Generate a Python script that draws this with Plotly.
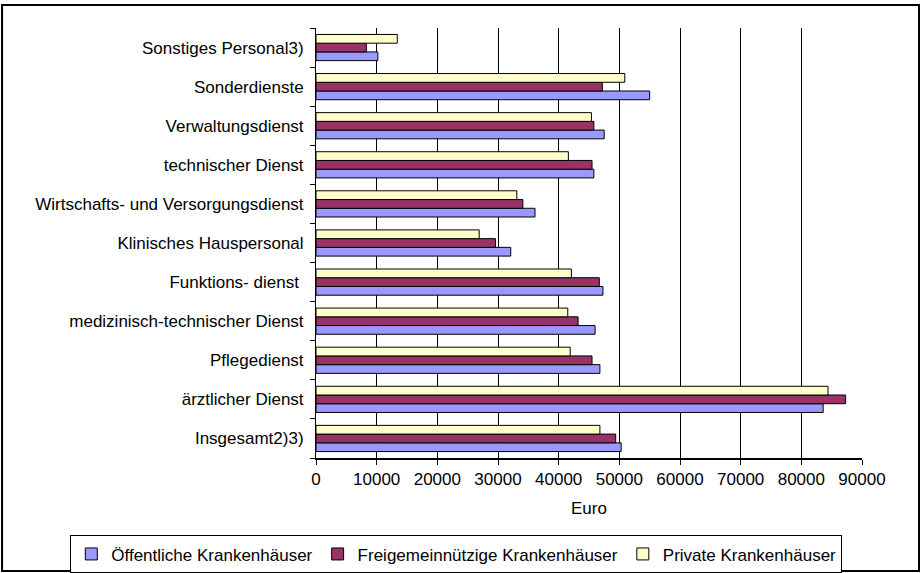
import plotly.graph_objs as go

# Kategorien von unten nach oben
kategorien = ['Insgesamt2)3)', 'ärztlicher Dienst', 'Pflegedienst', 'medizinisch-technischer Dienst',
              'Funktions- dienst ', 'Klinisches Hauspersonal', 'Wirtschafts- und Versorgungsdienst',
              'technischer Dienst', 'Verwaltungsdienst', 'Sonderdienste', 'Sonstiges Personal3)']

oeffentlich = [50300, 83600, 46800, 46000, 47300, 32100, 36100, 45800, 47500, 55000, 10200]
freigemein = [49400, 87300, 45500, 43200, 46700, 29600, 34100, 45500, 45800, 47200, 8300]
privat = [46800, 84400, 41900, 41500, 42100, 26900, 33100, 41600, 45400, 50900, 13400]

fnt = dict(family='Liberation Sans, Arial', size=17, color='black')

fig = go.Figure()
fig.add_trace(go.Bar(y=kategorien, x=oeffentlich, orientation='h', name='Öffentliche Krankenhäuser',
                     marker=dict(color='#9999FF', line=dict(color='black', width=1))))
fig.add_trace(go.Bar(y=kategorien, x=freigemein, orientation='h', name='Freigemeinnützige Krankenhäuser',
                     marker=dict(color='#993366', line=dict(color='black', width=1))))
fig.add_trace(go.Bar(y=kategorien, x=privat, orientation='h', name='Private Krankenhäuser',
                     marker=dict(color='#FFFFCC', line=dict(color='black', width=1))))

fig.update_layout(
    width=923, height=573,
    margin=dict(l=316, r=61, t=28, b=115, autoexpand=False),
    paper_bgcolor='white', plot_bgcolor='white',
    barmode='group', bargap=0.33, bargroupgap=0,
    font=fnt,
    showlegend=True,
    legend=dict(orientation='h', x=-0.45, xanchor='left', y=-0.18, yanchor='top',
                bordercolor='black', borderwidth=1, font=fnt, itemwidth=30,
                traceorder='normal', tracegroupgap=0),
)

fig.update_xaxes(range=[0, 90000], dtick=10000, tickformat='d', showgrid=True, gridcolor='black',
                 gridwidth=1, showline=True, linecolor='black', linewidth=2, ticks='outside',
                 ticklen=5, tickcolor='black', zeroline=False, automargin=False,
                 title=dict(text='Euro', font=fnt, standoff=14))
fig.update_yaxes(type='category', showline=True, linecolor='black', linewidth=1, ticks='outside',
                 tickson='boundaries', ticklen=5, tickcolor='black', showgrid=False, automargin=False,
                 ticklabelstandoff=8)

# Rahmen um das ganze Diagramm
fig.add_shape(type='rect', xref='paper', yref='paper', x0=-0.575, x1=1.1044, y0=-0.263, y1=1.0535,
              line=dict(color='black', width=2))

# body-Rand der Seite weg, damit die Figur bei 0,0 anfängt
fig.write_html('out.html', config={'displayModeBar': False},
               post_script="document.body.style.margin='0';")
